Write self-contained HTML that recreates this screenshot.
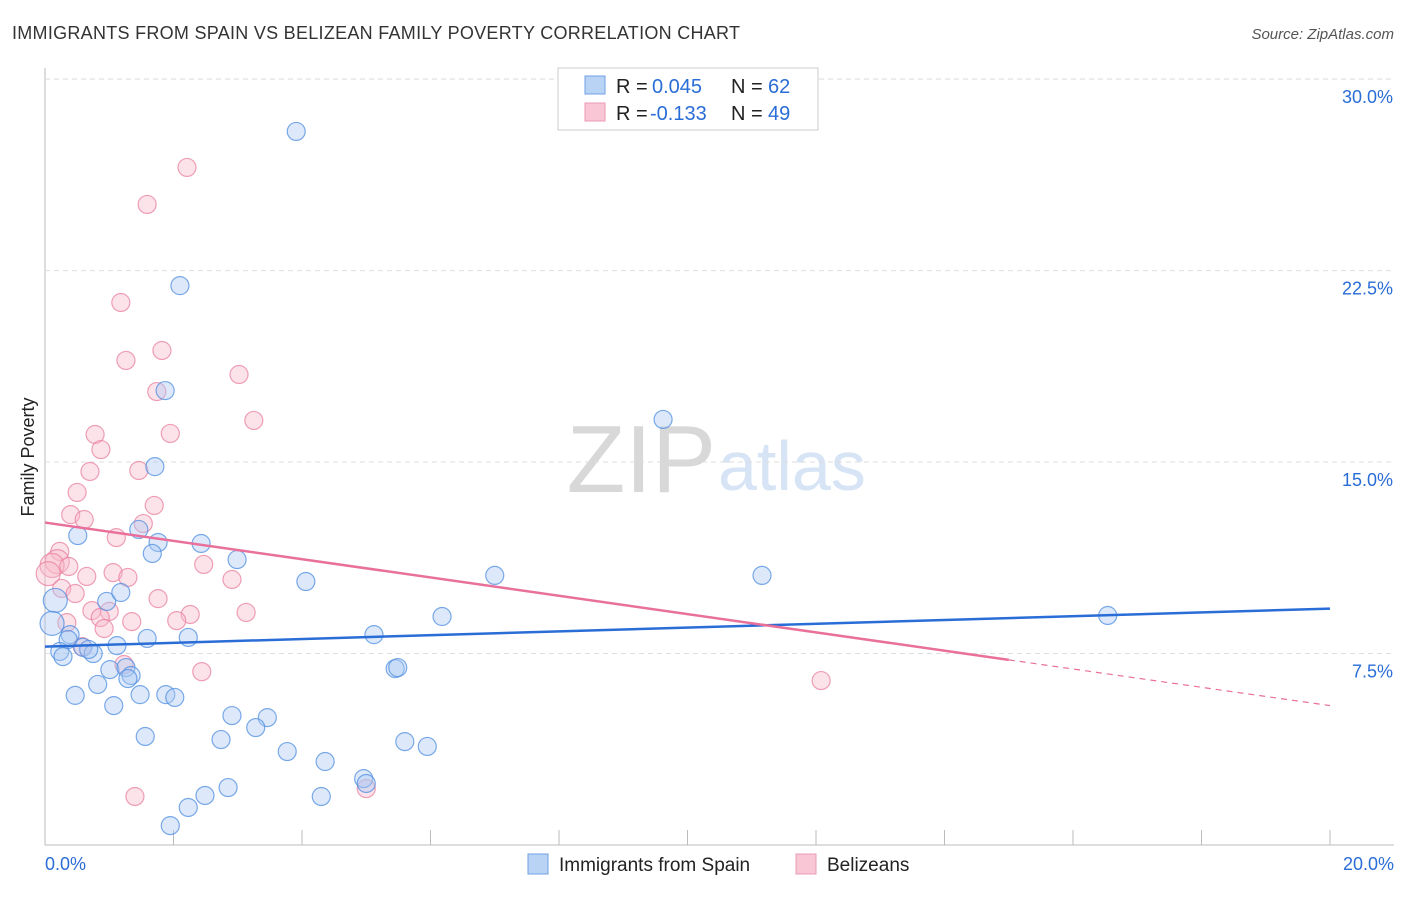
<!DOCTYPE html>
<html><head><meta charset="utf-8"><style>
body{margin:0;background:#fff;font-family:"Liberation Sans",sans-serif;}
svg text{font-family:"Liberation Sans",sans-serif;}
</style></head><body>
<svg id="chart" width="1406" height="892">
<text x="12" y="39" font-size="18" fill="#333" textLength="728">IMMIGRANTS FROM SPAIN VS BELIZEAN FAMILY POVERTY CORRELATION CHART</text>
<text x="1394" y="39" font-size="15" fill="#555" font-style="italic" text-anchor="end">Source: ZipAtlas.com</text>
<text x="34" y="457" font-size="18" fill="#222" text-anchor="middle" transform="rotate(-90 34 457)">Family Poverty</text>
<text x="716" y="492" font-size="96" fill="#d8d8d8" text-anchor="end" font-family="Liberation Serif">ZIP</text>
<text x="718" y="490" font-size="70" fill="#d6e4f5">atlas</text>
<g id="grid"></g><g id="pts"></g><g id="lines"></g>
<g>
<rect x="558" y="68" width="260" height="62" fill="#fff" stroke="#ccc"/>
<rect x="585" y="76" width="20" height="18" fill="#b9d3f5" stroke="#6fa0e6"/>
<rect x="585" y="103" width="20" height="18" fill="#f9c6d5" stroke="#eb9bb5"/>
<text y="93" font-size="20" fill="#222"><tspan x="616">R =</tspan><tspan x="652" fill="#2a6dd6">0.045</tspan><tspan x="731">N =</tspan><tspan x="768" fill="#2a6dd6">62</tspan></text>
<text y="120" font-size="20" fill="#222"><tspan x="616">R =</tspan><tspan x="650" fill="#2a6dd6">-0.133</tspan><tspan x="731">N =</tspan><tspan x="768" fill="#2a6dd6">49</tspan></text>
</g>
<g>
<rect x="528" y="854" width="20" height="20" fill="#b9d3f5" stroke="#6fa0e6"/>
<text x="559" y="871" font-size="19" fill="#222">Immigrants from Spain</text>
<rect x="796" y="854" width="20" height="20" fill="#f9c6d5" stroke="#eb9bb5"/>
<text x="827" y="871" font-size="19" fill="#222">Belizeans</text>
</g>
</svg>
<script>
const yTicks=[7.5,15,22.5,30];
const yTickLabels=["7.5%","15.0%","22.5%","30.0%"];
const blueX=[3.91,2.10,1.87,9.62,1.71,1.46,0.51,2.43,1.76,1.67,2.99,4.06,7.00,11.16,16.54,6.18,0.16,0.11,0.96,1.18,0.39,0.36,2.23,1.59,5.12,0.23,0.28,0.59,0.75,0.68,1.12,1.01,1.26,1.34,1.29,5.45,5.49,0.82,0.47,1.48,1.88,2.02,1.07,2.91,3.46,3.28,1.56,2.74,5.60,5.95,3.77,4.36,4.96,5.00,2.85,2.49,4.30,2.23,1.95];
const blueY=[27.95,21.91,17.80,16.67,14.82,12.36,12.12,11.81,11.85,11.42,11.18,10.32,10.56,10.56,8.99,8.95,9.58,8.68,9.54,9.89,8.24,8.05,8.13,8.09,8.24,7.58,7.38,7.74,7.50,7.66,7.81,6.87,6.95,6.64,6.52,6.91,6.95,6.29,5.86,5.89,5.89,5.78,5.46,5.07,4.99,4.60,4.25,4.13,4.05,3.86,3.66,3.27,2.60,2.41,2.25,1.94,1.90,1.47,0.76];
const pinkX=[2.21,1.59,1.18,1.82,1.26,3.02,1.74,3.25,0.78,1.95,0.87,0.70,1.46,0.50,1.70,0.40,0.61,1.53,1.11,0.23,0.19,0.11,0.05,0.37,2.47,1.06,0.65,1.29,2.91,0.26,0.47,1.76,0.73,1.00,2.26,3.13,0.86,2.05,0.34,1.35,0.92,0.58,1.23,2.44,12.08,1.40,5.00];
const pinkY=[26.54,25.09,21.25,19.37,18.98,18.43,17.76,16.63,16.08,16.12,15.49,14.63,14.67,13.81,13.30,12.94,12.75,12.59,12.04,11.50,11.10,10.95,10.63,10.91,10.99,10.67,10.52,10.48,10.40,10.05,9.85,9.65,9.18,9.15,9.03,9.11,8.91,8.79,8.71,8.75,8.48,7.77,7.07,6.79,6.44,1.90,2.21];
const blueTrend=[7.77,9.26];
const pinkTrend=[12.63,5.46];
const ns="http://www.w3.org/2000/svg";
const X=v=>45+v*64.25, Y=v=>845-v*25.53;
function mk(tag,a,p){const e=document.createElementNS(ns,tag);for(const k in a)e.setAttribute(k,a[k]);p.appendChild(e);return e;}
const grid=document.getElementById('grid');
mk('line',{x1:45,y1:68,x2:45,y2:845,stroke:'#bbb'},grid);
mk('line',{x1:45,y1:845,x2:1394,y2:845,stroke:'#bbb'},grid);
mk('line',{x1:45,y1:79,x2:1394,y2:79,stroke:'#ddd','stroke-dasharray':'5,4'},grid);
yTicks.forEach((t,i)=>{
 const l=mk('line',{x1:45,y1:Y(t),x2:1394,y2:Y(t),stroke:'#ddd','stroke-dasharray':'5,4'},grid);
 
 
 const tx=mk('text',{x:1393,y:Y(t)+24,'font-size':18,fill:'#2a6dd6','text-anchor':'end'},grid);tx.textContent=yTickLabels[i];
 
 
});
for(let i=1;i<=10;i++){const x=X(i*2);mk('line',{x1:x,y1:830,x2:x,y2:845,stroke:'#bbb'},grid);}
const xl=mk('text',{x:45,y:870,'font-size':18,fill:'#2a6dd6'},grid);xl.textContent='0.0%';


const xr=mk('text',{x:1394,y:870,'font-size':18,fill:'#2a6dd6','text-anchor':'end'},grid);xr.textContent='20.0%';


const pts=document.getElementById('pts');
function draw(xs,ys,fill,stroke,name){xs.forEach((x,i)=>{
 const c=mk('circle',{cx:X(x),cy:Y(ys[i]),r:(x<0.2?12:9),fill:fill,'fill-opacity':0.4,stroke:stroke,'stroke-opacity':0.75,'stroke-width':1.2},pts);
 
 
});}
draw(pinkX,pinkY,'#f7b8cb','#e8809f','belizean-point');
draw(blueX,blueY,'#a9c8f2','#4f8ee0','spain-point');
const lines=document.getElementById('lines');
const bl=mk('line',{x1:X(0),y1:Y(blueTrend[0]),x2:X(20),y2:Y(blueTrend[1]),stroke:'#2a6dd6','stroke-width':2.5},lines);


const pm=pinkTrend[0]+(pinkTrend[1]-pinkTrend[0])*0.75;
const pl=mk('line',{x1:X(0),y1:Y(pinkTrend[0]),x2:X(15),y2:Y(pm),stroke:'#e8709a','stroke-width':2.5},lines);


const pd=mk('line',{x1:X(15),y1:Y(pm),x2:X(20),y2:Y(pinkTrend[1]),stroke:'#e8709a','stroke-width':1.2,'stroke-dasharray':'6,5'},lines);


</script>
</body></html>
